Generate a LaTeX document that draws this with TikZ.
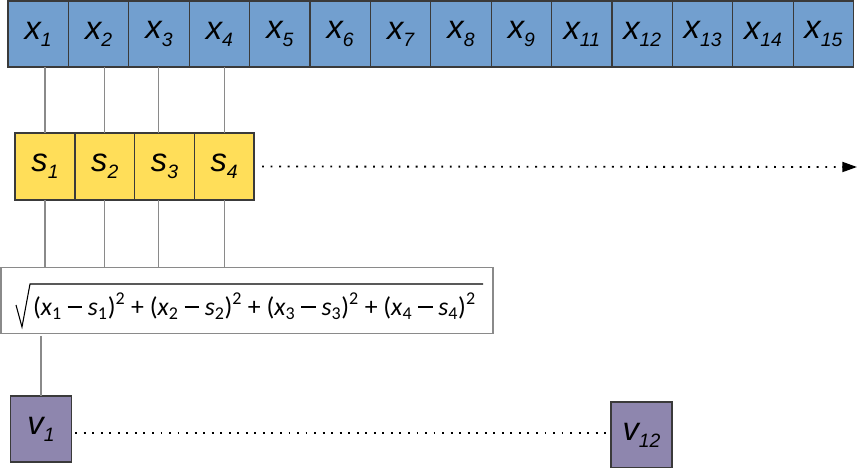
\documentclass[tikz,border=0pt]{standalone}
\usepackage{amsmath, amssymb}
\usepackage{fontspec}
\setmainfont{Liberation Sans}
\newfontfamily\formfont{Carlito}
\usetikzlibrary{positioning, arrows.meta}

\definecolor{cellblue}{HTML}{729FCF}
\definecolor{cellyellow}{HTML}{FFDE59}
\definecolor{cellpurple}{HTML}{8E86AE}
\definecolor{cellborder}{HTML}{3A3A3A}
\definecolor{linkgray}{HTML}{8A8A8A}

\newcommand{\cellsub}[1]{\raisebox{-0.22em}{\fontsize{14.5pt}{15pt}\selectfont #1}}
\newcommand{\lbl}[2]{\fontsize{24.5pt}{26pt}\selectfont\itshape #1\cellsub{#2}}
\newcommand{\minusbar}{\rule[0.28em]{0.56em}{0.055em}}
\newcommand{\distterm}[1]{(\textit{x}\textsubscript{#1} \minusbar{} \textit{s}\textsubscript{#1})\textsuperscript{2}}

\begin{document}
\begin{tikzpicture}[
            x=0.75pt, y=-0.75pt,
            node distance=0pt,
            every node/.style={outer sep=0pt, inner sep=0pt},
            cell/.style={draw=cellborder, line width=1pt, minimum width=45.3pt, minimum height=49.5pt},
            xcell/.style={cell, fill=cellblue},
            scell/.style={cell, fill=cellyellow, minimum width=44.8pt, minimum height=50.2pt},
            vcell/.style={cell, fill=cellpurple, minimum width=45.3pt},
            formbox/.style={draw=linkgray, line width=0.9pt, fill=white, minimum width=369pt, minimum height=49.5pt},
            link/.style={draw=linkgray, line width=0.9pt},
            dotline/.style={line width=1.4pt, dash pattern=on 1.4pt off 5pt}
        ]
            \useasboundingbox (0,0) rectangle (865,468);

            % Входной ряд
            \node[xcell] (x1) at (38.2,34) {\lbl{x}{1}};
            \node[xcell, right=of x1] (x2) {\lbl{x}{2}};
            \node[xcell, right=of x2] (x3) {\lbl{x}{3}};
            \node[xcell, right=of x3] (x4) {\lbl{x}{4}};
            \node[xcell, right=of x4] (x5) {\lbl{x}{5}};
            \node[xcell, right=of x5] (x6) {\lbl{x}{6}};
            \node[xcell, right=of x6] (x7) {\lbl{x}{7}};
            \node[xcell, right=of x7] (x8) {\lbl{x}{8}};
            \node[xcell, right=of x8] (x9) {\lbl{x}{9}};
            \node[xcell, right=of x9] (x11) {\lbl{x}{11}};
            \node[xcell, right=of x11] (x12) {\lbl{x}{12}};
            \node[xcell, right=of x12] (x13) {\lbl{x}{13}};
            \node[xcell, right=of x13] (x14) {\lbl{x}{14}};
            \node[xcell, right=of x14] (x15) {\lbl{x}{15}};

            % Окно
            \node[scell] (s1) at (45,166.5) {\lbl{s}{1}};
            \node[scell, right=of s1] (s2) {\lbl{s}{2}};
            \node[scell, right=of s2] (s3) {\lbl{s}{3}};
            \node[scell, right=of s3] (s4) {\lbl{s}{4}};
            \coordinate (sweepend) at (857,167);

            % Расстояние
            \node[formbox] (dist) at (247,300.5) {};
            \node[anchor=base west] (distexpr) at (33,315) {\fontsize{19.3pt}{22pt}\formfont
                \distterm{1} + \distterm{2} + \distterm{3} + \distterm{4}};
            \draw[line width=0.8pt, line join=miter] (16,305) -- (22,327) -- (30,284) -- (483,284);

            % Результаты
            \node[vcell] (v1) at (41,429) {\lbl{v}{1}};
            \node[vcell, minimum width=45.8pt] (v12) at (641.5,435) {\lbl{v}{12}};

            % Связи
            \draw[link] (s1.north) -- (s1.north |- x1.south);
            \draw[link] (s2.north) -- (s2.north |- x2.south);
            \draw[link] ([xshift=-4.5pt]s3.north) -- ([xshift=-4.5pt]s3.north |- x3.south);
            \draw[link] (s4.north) -- (s4.north |- x4.south);
            \draw[link] (s1.south) -- (s1.south |- dist.north);
            \draw[link] (s2.south) -- (s2.south |- dist.north);
            \draw[link] ([xshift=-4.5pt]s3.south) -- ([xshift=-4.5pt]s3.south |- dist.north);
            \draw[link] (s4.south) -- (s4.south |- dist.north);
            \draw[link] ([yshift=-2pt]v1.north |- dist.south) -- (v1.north);
            \draw[dotline, -{Triangle[length=11pt, width=7.5pt]}] ([xshift=6pt]s4.east) -- (sweepend);
            \draw[dotline] ([shift={(3pt,-3pt)}]v1.east) -- ([shift={(-3pt,-3pt)}]v1.east -| v12.west);
        \end{tikzpicture}
\end{document}
